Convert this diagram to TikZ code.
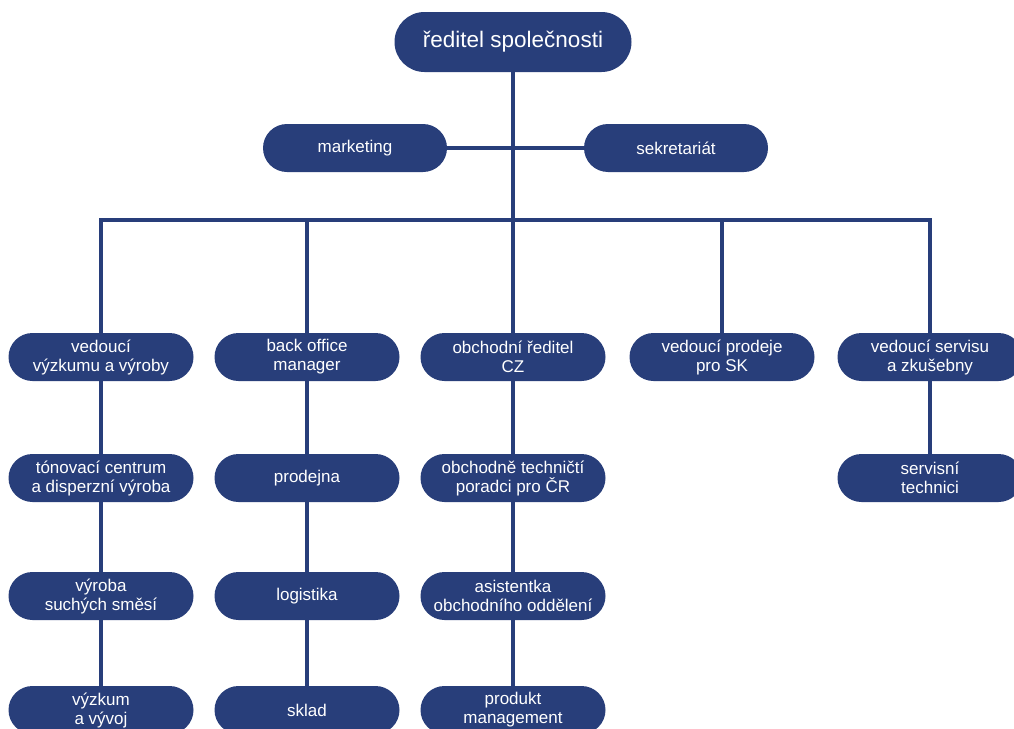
\documentclass[tikz,border=0pt]{standalone}
\usepackage{fontspec}
\setmainfont{Liberation Sans}
\definecolor{navy}{RGB}{40,62,122}
\begin{document}
\begin{tikzpicture}[x=1pt,y=-1pt,
  box/.style={fill=navy, text=white, rounded corners=24pt, minimum width=185pt, minimum height=48pt, align=center, inner sep=0pt, font=\fontsize{17}{19}\selectfont},
  link/.style={draw=navy, line width=3.2pt}]
\useasboundingbox (0,0) rectangle (1014,728);
\fill[white] (0,0) rectangle (1014,728);
% top
\node[box, minimum width=237pt, minimum height=60pt, rounded corners=30pt, font=\fontsize{22.5}{25}\selectfont] (top) at (513,42) {ředitel společnosti};
\node[box, minimum width=184pt] (mkt) at (355,148) {marketing};
\node[box, minimum width=184pt] (sek) at (676,148) {sekretariát};
\coordinate (bar) at (513,220);
% level 2
\node[box] (a1) at (101,357) {vedoucí\\výzkumu a výroby};
\node[box] (b1) at (307,357) {back office\\manager};
\node[box] (c1) at (513,357) {obchodní ředitel\\CZ};
\node[box] (d1) at (722,357) {vedoucí prodeje\\pro SK};
\node[box] (e1) at (930,357) {vedoucí servisu\\a zkušebny};
% level 3
\node[box] (a2) at (101,478) {tónovací centrum\\a disperzní výroba};
\node[box] (b2) at (307,478) {prodejna};
\node[box] (c2) at (513,478) {obchodně techničtí\\poradci pro ČR};
\node[box] (e2) at (930,478) {servisní\\technici};
% level 4
\node[box] (a3) at (101,596) {výroba\\suchých směsí};
\node[box] (b3) at (307,596) {logistika};
\node[box] (c3) at (513,596) {asistentka\\obchodního oddělení};
% level 5
\node[box] (a4) at (101,710) {výzkum\\a vývoj};
\node[box] (b4) at (307,710) {sklad};
\node[box] (c4) at (513,710) {produkt\\management};
% connectors
\path[link] (top.south) -- (bar);
\path[link] (mkt.east) -- (sek.west);
\path[link] (a1.north) -- (a1.north |- bar) -- (e1.north |- bar) -- (e1.north);
\path[link] (b1.north) -- (b1.north |- bar);
\path[link] (c1.north) -- (bar);
\path[link] (d1.north) -- (d1.north |- bar);
\path[link] (a1) -- (a2) -- (a3) -- (a4);
\path[link] (b1) -- (b2) -- (b3) -- (b4);
\path[link] (c1) -- (c2) -- (c3) -- (c4);
\path[link] (e1) -- (e2);
\end{tikzpicture}
\end{document}
